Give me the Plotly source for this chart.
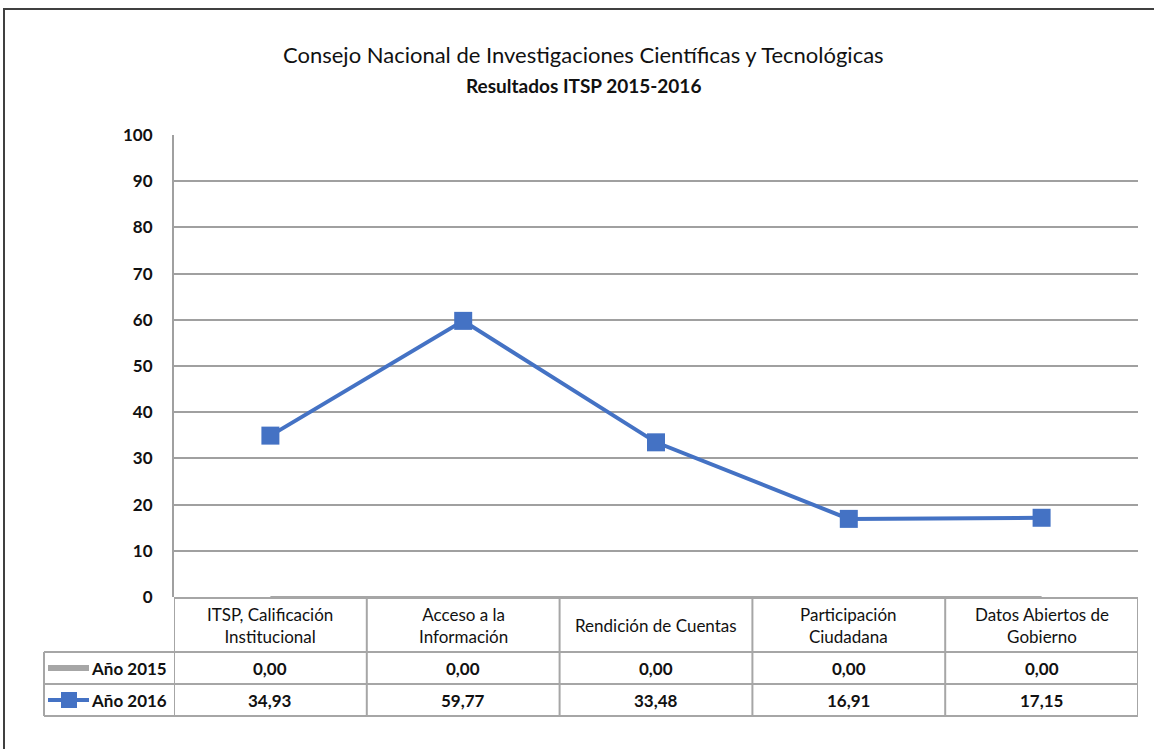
import plotly.graph_objects as go

categories = ["ITSP, Calificación<br>Institucional", "Acceso a la<br>Información",
              "Rendición de Cuentas", "Participación<br>Ciudadana", "Datos Abiertos de<br>Gobierno"]
series_names = ["Año 2015", "Año 2016"]
values_2015 = [0.00, 0.00, 0.00, 0.00, 0.00]
values_2016 = [34.93, 59.77, 33.48, 16.91, 17.15]
y_ticks = [0, 10, 20, 30, 40, 50, 60, 70, 80, 90, 100]

W, H = 1154, 749
FONT = "Lato, 'Open Sans', sans-serif"
BLUE = "#4472C4"
GRAY = "#A6A6A6"
GRID = "#A0A0A0"
TXT = "#111111"

def px(x):
    return x / W

def py(y):
    return 1 - y / H

plot_l, plot_r, plot_t, plot_b = 174, 1138, 135, 597
row_y = [598, 652, 684, 716]
leg_l = 44

fig = go.Figure()
xs = list(range(len(categories)))
fig.add_trace(go.Scatter(x=xs, y=values_2015, mode="lines", name=series_names[0],
                         line=dict(color=GRAY, width=2), showlegend=False, cliponaxis=False))
fig.add_trace(go.Scatter(x=xs, y=values_2016, mode="lines+markers", name=series_names[1],
                         line=dict(color=BLUE, width=4),
                         marker=dict(symbol="square", size=18, color=BLUE),
                         showlegend=False))

shapes = []
# outer frame
shapes.append(dict(type="rect", xref="paper", yref="paper", x0=px(4), x1=1.02,
                   y0=-0.02, y1=py(9), line=dict(color="#404040", width=2)))
# table horizontal lines
shapes.append(dict(type="line", xref="paper", yref="paper", x0=px(plot_l), x1=px(plot_r),
                   y0=py(row_y[0]), y1=py(row_y[0]), line=dict(color=GRAY, width=2)))
for ry in row_y[1:]:
    shapes.append(dict(type="line", xref="paper", yref="paper", x0=px(leg_l), x1=px(plot_r),
                       y0=py(ry), y1=py(ry), line=dict(color=GRAY, width=2)))
# table vertical lines
shapes.append(dict(type="line", xref="paper", yref="paper", x0=px(leg_l), x1=px(leg_l),
                   y0=py(row_y[1]), y1=py(row_y[3]), line=dict(color=GRAY, width=2)))
for i in range(len(categories) + 1):
    shapes.append(dict(type="line", xref="x", yref="paper", x0=i - 0.5, x1=i - 0.5,
                       y0=py(row_y[0]), y1=py(row_y[3]), line=dict(color=GRAY, width=2)))
# legend keys
r1 = (row_y[1] + row_y[2]) / 2
r2 = (row_y[2] + row_y[3]) / 2
shapes.append(dict(type="line", xref="paper", yref="paper", x0=px(48), x1=px(89),
                   y0=py(r1), y1=py(r1), line=dict(color=GRAY, width=6)))
shapes.append(dict(type="line", xref="paper", yref="paper", x0=px(48), x1=px(89),
                   y0=py(r2), y1=py(r2), line=dict(color=BLUE, width=4)))
shapes.append(dict(type="rect", xref="paper", yref="paper", x0=px(61), x1=px(77),
                   y0=py(r2 + 8), y1=py(r2 - 8), fillcolor=BLUE, line=dict(width=0)))

ann = []
ann.append(dict(text="Consejo Nacional de Investigaciones Científicas y Tecnológicas",
                xref="paper", yref="paper", x=px(583), y=py(55), showarrow=False,
                font=dict(family=FONT, size=22, color=TXT), xanchor="center", yanchor="middle"))
ann.append(dict(text="<b>Resultados ITSP 2015-2016</b>",
                xref="paper", yref="paper", x=px(583), y=py(85), showarrow=False,
                font=dict(family=FONT, size=19, color=TXT), xanchor="center", yanchor="middle"))
hdr_mid = (row_y[0] + row_y[1]) / 2
for i, c in enumerate(categories):
    ann.append(dict(text=c, xref="x", yref="paper", x=i, y=py(hdr_mid), showarrow=False,
                    font=dict(family=FONT, size=17, color=TXT), align="center",
                    xanchor="center", yanchor="middle"))
    ann.append(dict(text="<b>" + f"{values_2015[i]:.2f}".replace(".", ",") + "</b>",
                    xref="x", yref="paper", x=i, y=py(r1), showarrow=False,
                    font=dict(family=FONT, size=17, color=TXT), xanchor="center", yanchor="middle"))
    ann.append(dict(text="<b>" + f"{values_2016[i]:.2f}".replace(".", ",") + "</b>",
                    xref="x", yref="paper", x=i, y=py(r2), showarrow=False,
                    font=dict(family=FONT, size=17, color=TXT), xanchor="center", yanchor="middle"))
for name, ry in zip(series_names, [r1, r2]):
    ann.append(dict(text="<b>" + name + "</b>", xref="paper", yref="paper", x=px(169), y=py(ry),
                    showarrow=False, font=dict(family=FONT, size=17, color=TXT),
                    xanchor="right", yanchor="middle"))

fig.update_layout(
    width=W, height=H, margin=dict(l=0, r=0, t=0, b=0, pad=0, autoexpand=False),
    paper_bgcolor="white", plot_bgcolor="white",
    xaxis=dict(domain=[px(plot_l), px(plot_r)], range=[-0.5, len(categories) - 0.5],
               showticklabels=False, showgrid=False, zeroline=False, showline=False, ticks="",
               automargin=False),
    yaxis=dict(domain=[py(plot_b), py(plot_t)], range=[0, 100], tickvals=y_ticks,
               ticktext=[f"<b>{t}</b>" for t in y_ticks], automargin=False,
               showgrid=True, gridcolor=GRID, gridwidth=1.5, zeroline=False,
               showline=True, linecolor=GRID, linewidth=2, ticks="", ticklabelstandoff=16,
               tickfont=dict(family=FONT, size=17, color=TXT)),
    shapes=shapes, annotations=ann, showlegend=False,
)
fig.write_html("out.html", config={"displayModeBar": False},
               post_script="document.body.style.margin='0px';document.body.style.overflow='hidden';")
